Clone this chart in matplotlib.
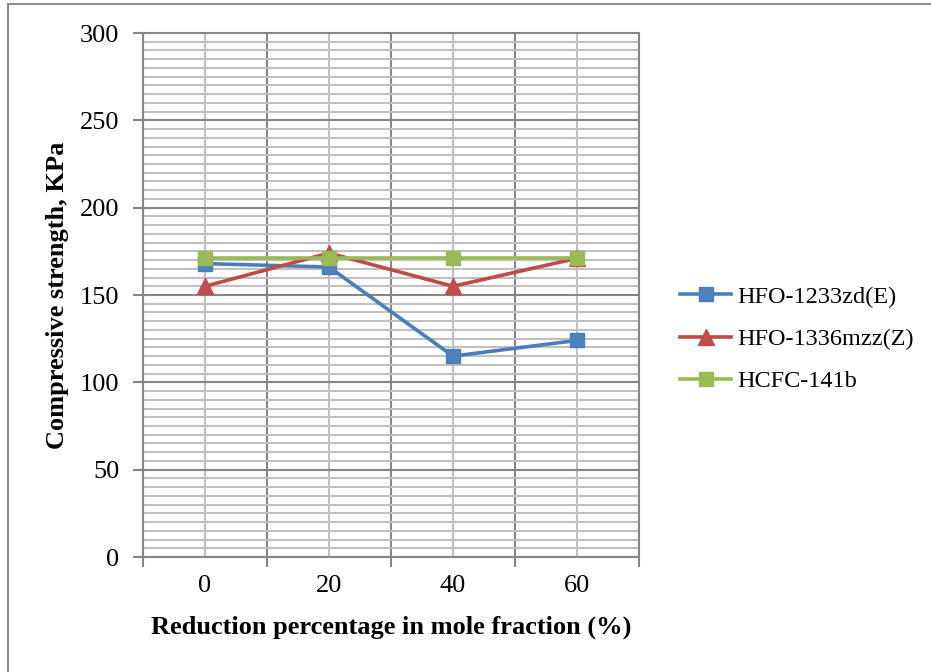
import matplotlib
matplotlib.use('Agg')
import matplotlib.pyplot as plt
from matplotlib.ticker import MultipleLocator, FixedLocator
from matplotlib.patches import Rectangle
import numpy as np

# 數據
categories = ['0', '20', '40', '60']
hfo_1233zd = [168, 166, 115, 124]
hfo_1336mzz = [155, 174, 155, 171]
hcfc_141b = [171, 171, 171, 171]

series_names = ['HFO-1233zd(E)', 'HFO-1336mzz(Z)', 'HCFC-141b']

plt.rcParams['font.family'] = ['Liberation Serif', 'DejaVu Serif']

fig = plt.figure(figsize=(9.31, 6.72), dpi=100)
ax = fig.add_axes([143 / 931, 1 - 557 / 672, (639 - 143) / 931, (557 - 33) / 672])

# 外框
fig.patches.append(Rectangle((8 / 931, -0.05), 1.2, 1 - 4 / 672 + 0.05, transform=fig.transFigure,
                             fill=False, edgecolor='#8c8c8c', linewidth=1.5))

x = np.arange(len(categories))
major_c = '#868686'
minor_c = '#c0c0c0'

ax.plot(x, hfo_1233zd, color='#4A7EBB', linewidth=2.6, marker='s', markersize=10,
        markerfacecolor='#4F81BD', markeredgecolor='#4A7EBB', label=series_names[0], zorder=3)
ax.plot(x, hfo_1336mzz, color='#BE4B48', linewidth=2.6, marker='^', markersize=11,
        markerfacecolor='#C0504D', markeredgecolor='#BE4B48', label=series_names[1], zorder=4)
ax.plot(x, hcfc_141b, color='#98B954', linewidth=2.6, marker='s', markersize=10,
        markerfacecolor='#9BBB59', markeredgecolor='#98B954', label=series_names[2], zorder=5)

ax.set_xlim(-0.5, len(categories) - 0.5)
ax.set_ylim(0, 300)

# y 軸刻度
ax.yaxis.set_major_locator(MultipleLocator(50))
ax.yaxis.set_minor_locator(MultipleLocator(5))
ax.grid(True, axis='y', which='major', color=major_c, linewidth=1.5)
ax.grid(True, axis='y', which='minor', color=minor_c, linewidth=1.5)

# x 軸刻度
ax.set_xticks(x)
ax.set_xticklabels(categories)
ax.xaxis.set_minor_locator(FixedLocator(np.arange(-0.5, len(categories), 1.0)))
ax.grid(True, axis='x', which='major', color=minor_c, linewidth=1.5)
ax.grid(True, axis='x', which='minor', color=major_c, linewidth=1.5)
ax.set_axisbelow(True)

ax.tick_params(axis='x', which='major', length=0, labelsize=19, pad=13, colors='black')
ax.tick_params(axis='x', which='minor', length=7, width=1.5, color=major_c)
ax.tick_params(axis='y', which='major', length=7, width=1.5, color=major_c, labelsize=19, pad=10)
ax.tick_params(axis='y', which='minor', length=0)

for side in ['left', 'bottom', 'top', 'right']:
    ax.spines[side].set_color(major_c)
    ax.spines[side].set_linewidth(1.5)

ax.set_xlabel('Reduction percentage in mole fraction (%)', fontsize=19, fontweight='bold', labelpad=13)
ax.set_ylabel('Compressive strength, KPa', fontsize=19, fontweight='bold', labelpad=8)

ax.legend(loc='center left', bbox_to_anchor=(680 / 931, 1 - 339 / 672), bbox_transform=fig.transFigure,
          frameon=False, fontsize=17.5, borderpad=0, borderaxespad=0,
          handlelength=2.1, labelspacing=0.83, handletextpad=0.25)

plt.savefig('out.png', dpi=100)
